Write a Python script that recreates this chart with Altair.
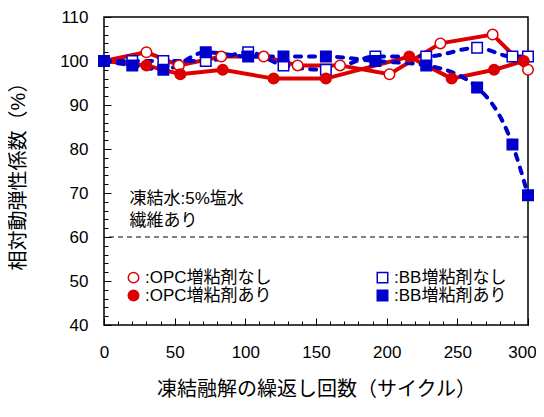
import altair as alt
import pandas as pd

RED = "#DD0000"
BLUE = "#0000CC"
FONT = "Liberation Sans, Arial, Noto Sans CJK JP"

series_names = ["OPC増粘剤なし", "OPC増粘剤あり", "BB増粘剤なし", "BB増粘剤あり"]

x_opc_none = [0, 30, 53, 83, 113, 137, 167, 202, 238, 275, 300]
y_opc_none = [100, 102, 99, 101, 101, 99, 99, 97, 104, 106, 98]

x_bb_none = [0, 20, 42, 72, 102, 127, 157, 192, 228, 264, 289, 300]
y_bb_none = [100, 100, 100, 100, 102, 99, 98, 101, 101, 103, 101, 101]

x_opc_with = [0, 30, 54, 84, 120, 157, 216, 246, 276, 297]
y_opc_with = [100, 99, 97, 98, 96, 96, 101, 96, 98, 100]

x_bb_with = [0, 20, 42, 72, 102, 127, 157, 192, 228, 264, 289, 300]
y_bb_with = [100, 99, 98, 102, 101, 101, 101, 100, 99, 94, 81, 69.5]

threshold = [60]
x_ticks = [0, 50, 100, 150, 200, 250, 300]
y_ticks = [40, 50, 60, 70, 80, 90, 100, 110]
x_minor = list(range(0, 301, 10))
y_minor = list(range(40, 111, 2))
note_lines = ["凍結水:5%塩水", "繊維あり"]

rows = []
for name, xs_, ys_ in [
    ("OPC増粘剤なし", x_opc_none, y_opc_none),
    ("BB増粘剤なし", x_bb_none, y_bb_none),
    ("OPC増粘剤あり", x_opc_with, y_opc_with),
    ("BB増粘剤あり", x_bb_with, y_bb_with),
]:
    for a, b in zip(xs_, ys_):
        rows.append({"series": name, "x": a, "y": b})
df = pd.DataFrame(rows)

xs = alt.Scale(domain=[0, 300], nice=False, zero=False)
ys = alt.Scale(domain=[40, 110], nice=False, zero=False)

main_x_axis = alt.Axis(values=x_ticks, orient="bottom", offset=-7, tickSize=7, domain=False,
                       labelPadding=19, labelFlush=False,
                       labelOffset={"condition": {"test": "datum.value === 300", "value": -6}, "value": 0},
                       title="凍結融解の繰返し回数（サイクル）", titlePadding=19)
main_y_axis = alt.Axis(values=y_ticks, orient="left", offset=-7, tickSize=7, domain=False,
                       labelPadding=16, labelFlush=False,
                       title="相対動弾性係数（%）", titlePadding=31)
minor_x_axis = alt.Axis(values=x_minor, orient="bottom", offset=-4, tickSize=4, domain=False,
                        labels=False, title=None)
minor_y_axis = alt.Axis(values=y_minor, orient="left", offset=-4, tickSize=4, domain=False,
                        labels=False, title=None)

base = alt.Chart(df)

red_lines = base.transform_filter(
    alt.FieldOneOfPredicate(field="series", oneOf=["OPC増粘剤なし", "OPC増粘剤あり"])
).mark_line(strokeWidth=4, color=RED).encode(
    x=alt.X("x:Q", scale=xs, axis=main_x_axis),
    y=alt.Y("y:Q", scale=ys, axis=main_y_axis),
    detail="series:N",
)

blue_lines = base.transform_filter(
    alt.FieldOneOfPredicate(field="series", oneOf=["BB増粘剤なし", "BB増粘剤あり"])
).mark_line(strokeWidth=4, color=BLUE, strokeDash=[6, 8], strokeCap="round",
            interpolate="monotone").encode(
    x=alt.X("x:Q", scale=xs, axis=minor_x_axis),
    y=alt.Y("y:Q", scale=ys, axis=minor_y_axis),
    detail="series:N",
)

leg = alt.Legend(
    title=None, orient="none", legendX=21, legendY=252, columns=2,
    labelExpr="':' + datum.label", labelFont=FONT, labelFontSize=17, labelColor="black",
    symbolStrokeWidth=1.5, symbolOpacity=1, labelOffset=3,
    rowPadding=0, columnPadding=102, padding=0,
)

points = base.mark_point(filled=True, opacity=1, strokeWidth=1.5).encode(
    x=alt.X("x:Q", scale=xs, axis=None),
    y=alt.Y("y:Q", scale=ys, axis=None),
    fill=alt.Fill("series:N", scale=alt.Scale(domain=series_names,
                  range=["#FFFFFF", RED, "#FFFFFF", BLUE]), legend=leg),
    stroke=alt.Stroke("series:N", scale=alt.Scale(domain=series_names,
                      range=[RED, RED, BLUE, BLUE]), legend=leg),
    shape=alt.Shape("series:N", scale=alt.Scale(domain=series_names,
                    range=["circle", "circle", "square", "square"]), legend=leg),
    size=alt.Size("series:N", scale=alt.Scale(domain=series_names,
                  range=[110, 110, 125, 125]), legend=leg),
)

rule = alt.Chart(pd.DataFrame({"v": threshold})).mark_rule(
    color="black", strokeWidth=1, strokeDash=[5, 4]
).encode(y=alt.Y("v:Q", scale=ys, axis=None))

note = alt.Chart(alt.Data(values=[{}])).mark_text(
    text=note_lines, align="left", baseline="top", font=FONT, fontSize=17,
    lineHeight=22, color="black"
).encode(x=alt.value(25.5), y=alt.value(174))

chart = alt.layer(rule, red_lines, blue_lines, points, note).resolve_axis(
    x="independent", y="independent"
).properties(
    width=424, height=308,
    autosize=alt.AutoSizeParams(type="none"),
    padding={"left": 96, "top": 9, "right": 8, "bottom": 76},
).configure_view(
    stroke="black", strokeWidth=1.5
).configure_axis(
    grid=False, tickColor="black", tickWidth=1, labelColor="black",
    labelFont=FONT, labelFontSize=17, titleFont=FONT, titleFontSize=20,
    titleFontWeight="normal", titleColor="black",
)

chart.save("out.html", embed_options={"renderer": "svg", "actions": False})
